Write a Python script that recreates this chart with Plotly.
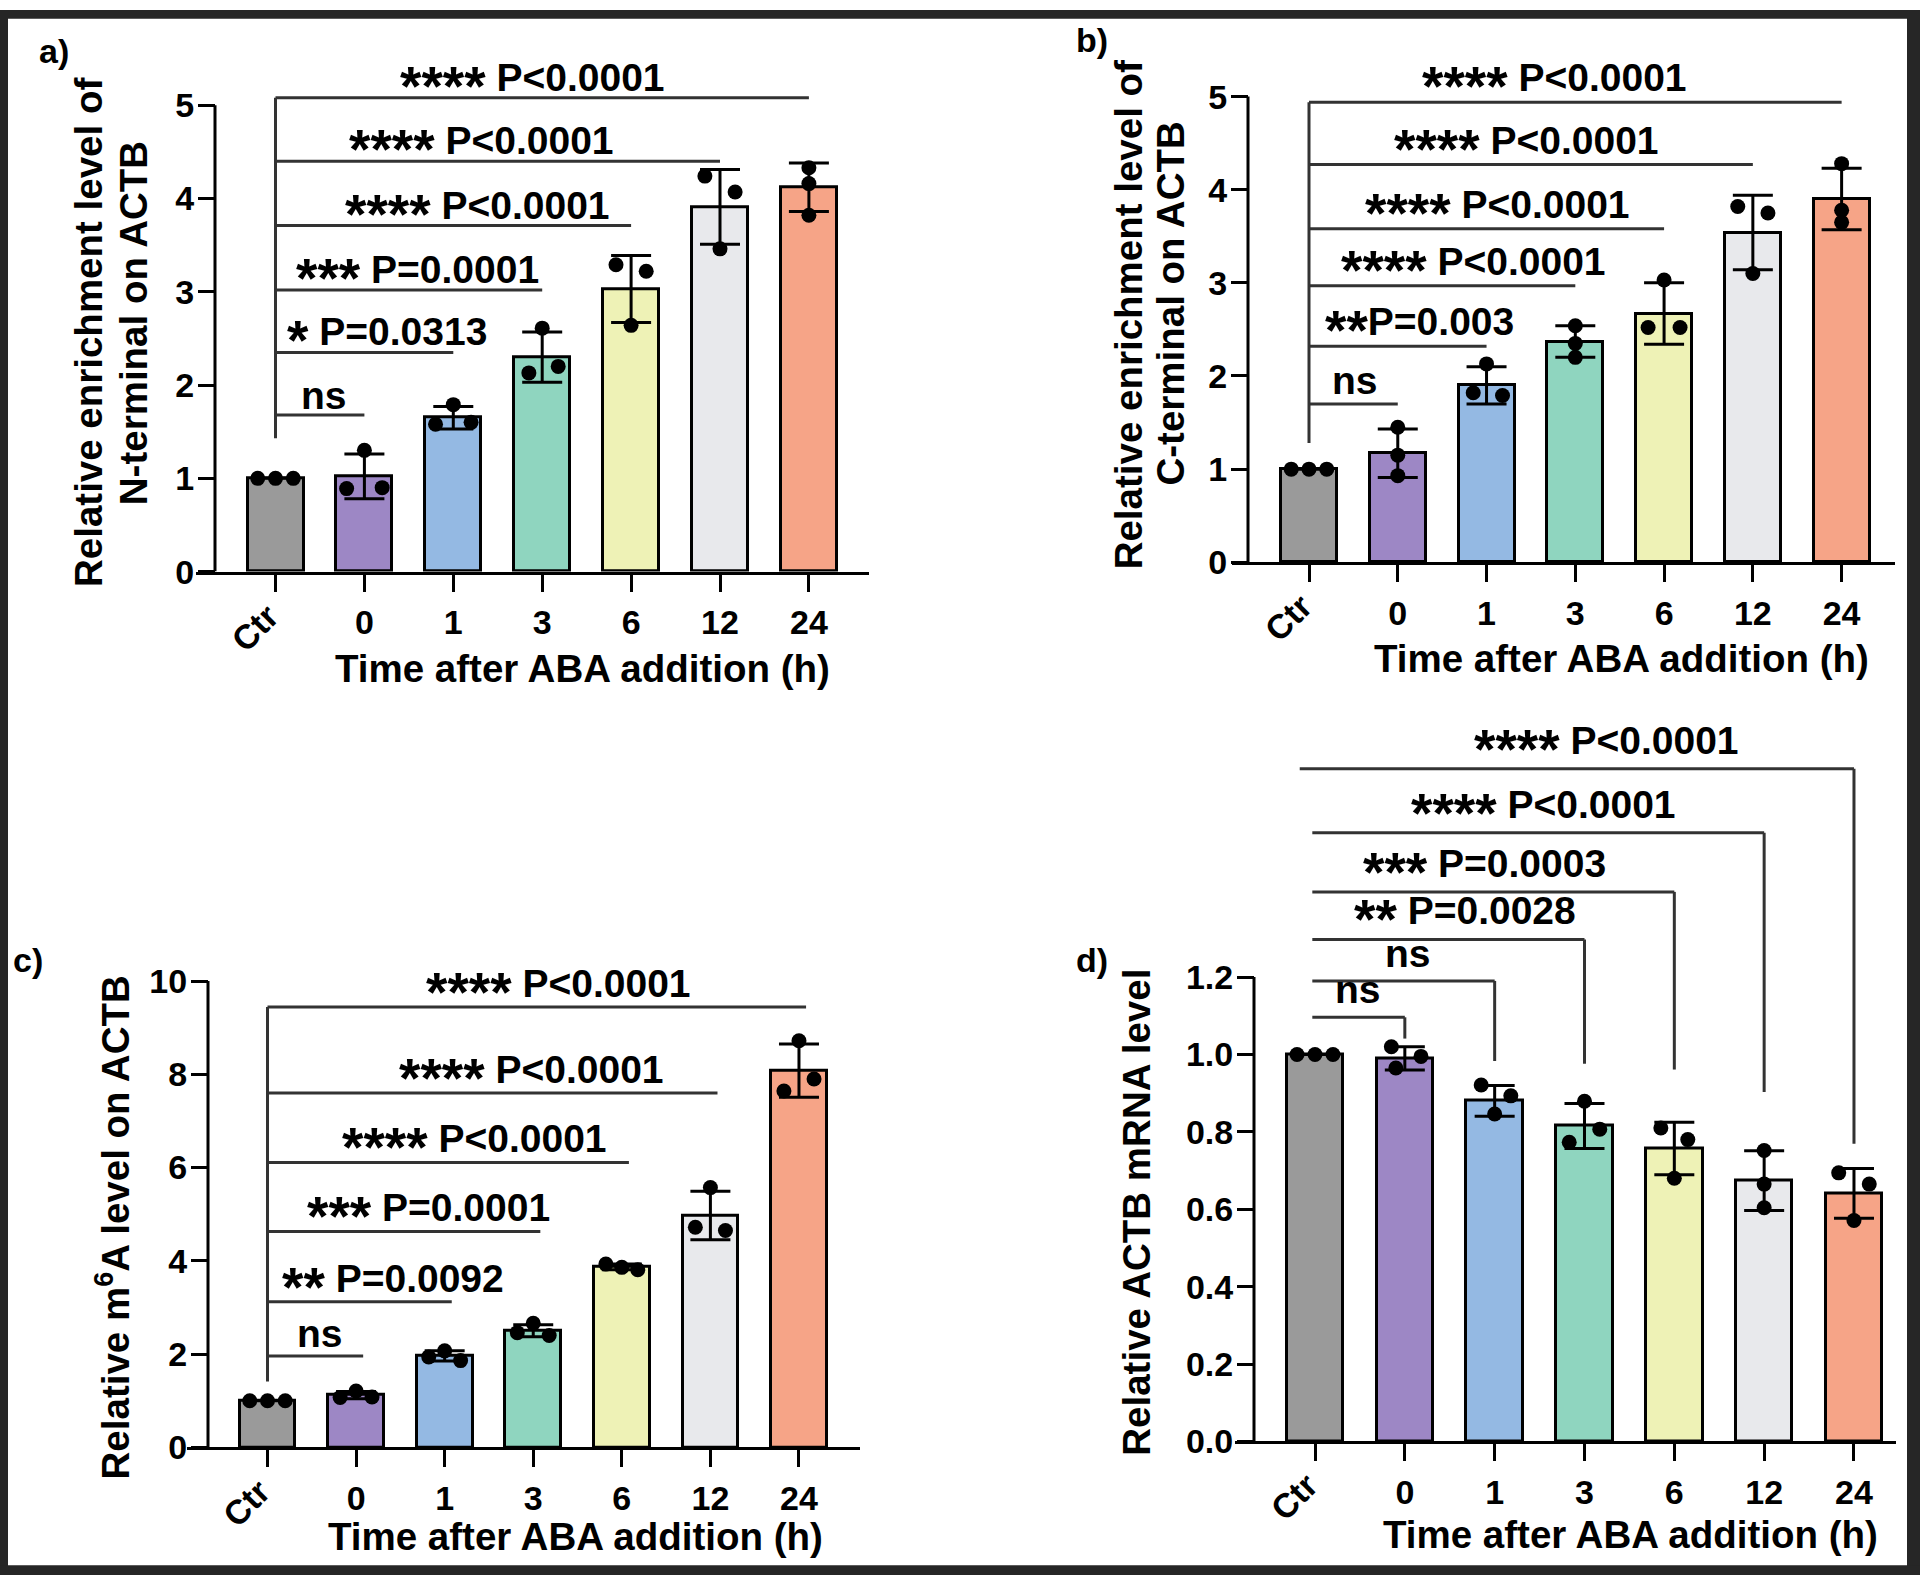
import plotly.graph_objects as go

W, H = 1920, 1594

# ---------------- data ----------------
CATEGORIES = ["Ctr", "0", "1", "3", "6", "12", "24"]
BAR_COLORS = ["#9a9a9a", "#9d87c5", "#94b9e3", "#8fd5bf", "#eef2b6", "#e8e9ec", "#f6a487"]

# Panel a: N-terminal enrichment
A_MEAN = [1.00, 1.02, 1.65, 2.30, 3.03, 3.91, 4.12]
A_SD = [0.0, 0.24, 0.12, 0.27, 0.36, 0.40, 0.26]
A_POINTS = [[1.0, 1.0, 1.0], [0.89, 1.30, 0.90], [1.58, 1.79, 1.60], [2.13, 2.61, 2.20],
            [3.29, 3.22, 2.64], [4.24, 4.07, 3.46], [4.33, 4.16, 3.82]]
A_BRACKET_Y = [1.68, 2.35, 3.02, 3.71, 4.40, 5.08]
A_LABELS = ["ns", "* P=0.0313", "*** P=0.0001", "**** P<0.0001", "**** P<0.0001", "**** P<0.0001"]

# Panel b: C-terminal enrichment
B_MEAN = [1.00, 1.17, 1.90, 2.37, 2.67, 3.54, 3.90]
B_SD = [0.0, 0.26, 0.20, 0.17, 0.33, 0.40, 0.33]
B_POINTS = [[1.0, 1.0, 1.0], [1.45, 1.15, 0.93], [2.13, 1.82, 1.79], [2.54, 2.35, 2.20],
            [3.03, 2.52, 2.52], [3.82, 3.75, 3.10], [4.28, 3.78, 3.65]]
B_BRACKET_Y = [1.70, 2.32, 2.97, 3.58, 4.27, 4.94]
B_LABELS = ["ns", "**P=0.003", "**** P<0.0001", "**** P<0.0001", "**** P<0.0001", "**** P<0.0001"]

# Panel c: m6A level
C_MEAN = [1.00, 1.12, 1.96, 2.50, 3.87, 4.97, 8.08]
C_SD = [0.0, 0.08, 0.11, 0.13, 0.06, 0.52, 0.57]
C_POINTS = [[1.0, 1.0, 1.0], [1.21, 1.07, 1.08], [2.07, 1.94, 1.86], [2.66, 2.46, 2.40],
            [3.93, 3.86, 3.81], [5.57, 4.72, 4.65], [8.72, 7.90, 7.64]]
C_BRACKET_Y = [1.96, 3.12, 4.63, 6.11, 7.60, 9.44]
C_LABELS = ["ns", "** P=0.0092", "*** P=0.0001", "**** P<0.0001", "**** P<0.0001", "**** P<0.0001"]

# Panel d: ACTB mRNA level
D_MEAN = [1.00, 0.99, 0.88, 0.815, 0.757, 0.674, 0.641]
D_SD = [0.0, 0.03, 0.04, 0.058, 0.068, 0.077, 0.064]
D_POINTS = [[1.0, 1.0, 1.0], [1.02, 0.995, 0.965], [0.921, 0.893, 0.846], [0.879, 0.807, 0.773],
            [0.81, 0.78, 0.68], [0.752, 0.665, 0.604], [0.694, 0.665, 0.571]]
D_BRACKET_Y = [1.096, 1.190, 1.297, 1.420, 1.573, 1.738]
D_DROP_END = [1.041, 0.983, 0.976, 0.961, 0.903, 0.769]
D_LABELS = ["ns", "ns", "** P=0.0028", "*** P=0.0003", "**** P<0.0001", "**** P<0.0001"]

X_TITLE = "Time after ABA addition (h)"
Y_TITLES = {
    "a": ["Relative enrichment level of", "N-terminal on ACTB"],
    "b": ["Relative enrichment level of", "C-terminal on ACTB"],
    "c": ["Relative m<sup>6</sup>A level on ACTB"],
    "d": ["Relative ACTB mRNA level"],
}

# ---------------- layout / style ----------------
FONT = "Liberation Sans, Arial, sans-serif"
TICK_SIZE = 34
TITLE_SIZE = 38.5
LABEL_SIZE = 39
STAR_SIZE = 55
STAR_DROP = 0.25       # em of the star font
STAR_EXTRA = 17        # px the lowered stars extend the text box downward
PANEL_SIZE = 34
BRACKET_COLOR = "#333333"

JITTER = {
    "a": [[-0.2, 0, 0.2], [-0.2, 0, 0.2], [-0.2, 0, 0.2], [-0.15, 0, 0.18],
          [-0.17, 0.17, 0], [-0.17, 0.17, 0], [0, 0, 0]],
    "b": [[-0.2, 0, 0.2], [0, 0, 0], [0, -0.15, 0.18], [0, 0, 0],
          [0, -0.18, 0.18], [-0.17, 0.17, 0], [0, 0, 0]],
    "c": [[-0.2, 0, 0.2], [0, -0.18, 0.18], [0, -0.18, 0.18], [0, -0.18, 0.18],
          [-0.18, 0, 0.18], [0, -0.17, 0.17], [0, 0.17, -0.17]],
    "d": [[-0.2, 0, 0.2], [-0.15, 0.18, -0.1], [-0.15, 0.18, 0], [0, 0.17, -0.17],
          [-0.15, 0.15, 0], [0, 0, 0], [-0.17, 0.17, 0]],
}

# pixel geometry of each panel
PANELS = {
    "a": dict(mean=A_MEAN, sd=A_SD, pts=A_POINTS, by=A_BRACKET_Y, labels=A_LABELS,
              cat0=275.5, sp=88.9, y0=572, unit=95.0, yline=215, xl=196, xr=869,
              ytop=5.3, axis_top=5, dtick=1, tickformat="d",
              lab_x=[0.55, 1.25, 1.60, 2.27, 2.32, 2.89], stem=1.43, end_off=0.0, yshift=-4,
              title=(582, 671), ytitle=[(88, 329), (133, 319)], plabel=(54, 42)),
    "b": dict(mean=B_MEAN, sd=B_SD, pts=B_POINTS, by=B_BRACKET_Y, labels=B_LABELS,
              cat0=1309, sp=88.77, y0=562.5, unit=94.86, yline=1248, xl=1232, xr=1895,
              ytop=5.2, axis_top=5, dtick=1, tickformat="d",
              lab_x=[0.52, 1.24, 1.85, 2.12, 2.45, 2.76], stem=1.28, end_off=0.0, yshift=0,
              title=(1621, 661), ytitle=[(1128, 311), (1171, 299)], plabel=(1092, 31)),
    "c": dict(mean=C_MEAN, sd=C_SD, pts=C_POINTS, by=C_BRACKET_Y, labels=C_LABELS,
              cat0=267.5, sp=88.58, y0=1464, unit=47.5, yline=208, xl=187, xr=860,
              ytop=10.2, axis_top=10, dtick=2, tickformat="d",
              lab_x=[0.59, 1.42, 1.82, 2.34, 2.98, 3.28], stem=1.41, end_off=0.08, yshift=-1,
              title=(575, 1555), ytitle=[(113, 1240)], plabel=(28, 968)),
    "d": dict(mean=D_MEAN, sd=D_SD, pts=D_POINTS, by=D_BRACKET_Y, labels=D_LABELS,
              cat0=1315, sp=89.83, y0=1458, unit=394.2, yline=1254, xl=1235, xr=1896,
              ytop=1.78, axis_top=1.2, dtick=0.2, tickformat=".1f",
              lab_x=[0.48, 1.03, 1.67, 1.89, 2.54, 3.25], stem=None, end_off=0.0, yshift=4,
              title=(1630, 1553), ytitle=[(1137, 1225)], plabel=(1092, 968)),
}


def px(x):
    return x / W


def py(y):
    return 1 - y / H


def n_stars(s):
    return len(s) - len(s.lstrip("*"))


def fmt_label(s):
    k = n_stars(s)
    if k == 0:
        return s
    return ('<span style="font-size:%dpx;baseline-shift:-%.2fem">' % (STAR_SIZE, STAR_DROP)
            + s[:k] + "</span>" + s[k:])


fig = go.Figure()
shapes = []
annotations = []
bold = dict(family=FONT, color="black", weight="bold")

for i, (key, p) in enumerate(PANELS.items()):
    n = "" if i == 0 else str(i + 1)
    xa, ya = "x" + n, "y" + n
    cats = list(range(len(CATEGORIES)))

    fig.add_trace(go.Bar(
        x=cats, y=p["mean"], width=0.63, xaxis=xa, yaxis=ya,
        marker=dict(color=BAR_COLORS, line=dict(color="black", width=3)),
        error_y=dict(type="data", array=p["sd"], visible=True, thickness=3, width=20,
                     color="black"),
        showlegend=False, hoverinfo="skip"))

    xs, ys = [], []
    for c, vals in enumerate(p["pts"]):
        for j, v in enumerate(vals):
            xs.append(c + JITTER[key][c][j])
            ys.append(v)
    fig.add_trace(go.Scatter(
        x=xs, y=ys, mode="markers", xaxis=xa, yaxis=ya, cliponaxis=False,
        marker=dict(color="black", size=15), showlegend=False, hoverinfo="skip"))

    xmin = (p["xl"] - p["cat0"]) / p["sp"]
    xmax = (p["xr"] - p["cat0"]) / p["sp"]
    top_px = p["y0"] - p["ytop"] * p["unit"]
    nticks = int(round(p["axis_top"] / p["dtick"])) + 1
    tickvals = [round(k * p["dtick"], 3) for k in range(nticks)]

    fig.layout["xaxis" + n] = dict(
        domain=[px(p["xl"]), px(p["xr"])], range=[xmin, xmax], anchor=ya,
        showline=True, linecolor="black", linewidth=3, showgrid=False, zeroline=False,
        ticks="outside", ticklen=17, tickwidth=3, tickcolor="black",
        tickmode="array", tickvals=cats[1:], ticktext=CATEGORIES[1:], ticklabelstandoff=2,
        minor=dict(tickmode="array", tickvals=[0], ticks="outside", ticklen=17,
                   tickwidth=3, tickcolor="black", showgrid=False),
        tickfont=dict(size=TICK_SIZE, **bold))
    fig.layout["yaxis" + n] = dict(
        domain=[py(p["y0"]), py(top_px)], range=[0, p["ytop"]], anchor="free",
        position=px(p["yline"]), showline=False, showgrid=False, zeroline=False,
        ticks="outside", ticklen=17, tickwidth=3, tickcolor="black",
        tickvals=tickvals, tickformat=p["tickformat"], ticklabelstandoff=-3,
        tickfont=dict(size=TICK_SIZE, **bold))

    # y axis line only up to the top tick
    shapes.append(dict(type="line", xref="paper", yref=ya, x0=px(p["yline"]),
                       x1=px(p["yline"]), y0=0, y1=p["axis_top"],
                       line=dict(color="black", width=3)))

    # significance brackets
    for k, yb in enumerate(p["by"]):
        target = k + 1
        if key == "d":
            x_start = -0.17 if k == len(p["by"]) - 1 else -0.03
            shapes.append(dict(type="line", xref=xa, yref=ya, x0=x_start, x1=target,
                               y0=yb, y1=yb, line=dict(color=BRACKET_COLOR, width=3)))
            shapes.append(dict(type="line", xref=xa, yref=ya, x0=target, x1=target,
                               y0=yb, y1=D_DROP_END[k], line=dict(color=BRACKET_COLOR, width=3)))
        else:
            shapes.append(dict(type="line", xref=xa, yref=ya, x0=0, x1=target + p["end_off"],
                               y0=yb, y1=yb, line=dict(color=BRACKET_COLOR, width=3)))
        lab = p["labels"][k]
        ys_ = p["yshift"] - (STAR_EXTRA if n_stars(lab) else 0)
        annotations.append(dict(
            xref=xa, yref=ya, x=p["lab_x"][k], y=yb, xanchor="center", yanchor="bottom",
            yshift=ys_, showarrow=False, text=fmt_label(lab),
            font=dict(size=LABEL_SIZE, **bold)))
    if p["stem"] is not None:
        shapes.append(dict(type="line", xref=xa, yref=ya, x0=0, x1=0, y0=p["stem"],
                           y1=max(p["by"]), line=dict(color=BRACKET_COLOR, width=3)))

    # rotated "Ctr" tick label
    annotations.append(dict(
        xref=xa, yref=ya + " domain", x=0, y=0, xshift=-21, yshift=-56, textangle=-45,
        xanchor="center", yanchor="middle", showarrow=False, text=CATEGORIES[0],
        font=dict(size=TICK_SIZE, **bold)))

    # axis titles and panel label
    annotations.append(dict(
        xref="paper", yref="paper", x=px(p["title"][0]), y=py(p["title"][1]),
        xanchor="center", yanchor="middle", showarrow=False, text=X_TITLE,
        font=dict(size=TITLE_SIZE, **bold)))
    for line_text, (tx, ty) in zip(Y_TITLES[key], p["ytitle"]):
        annotations.append(dict(
            xref="paper", yref="paper", x=px(tx), y=py(ty),
            xanchor="center", yanchor="middle", showarrow=False, textangle=-90,
            text=line_text, font=dict(size=TITLE_SIZE, **bold)))
    annotations.append(dict(
        xref="paper", yref="paper", x=px(p["plabel"][0]), y=py(p["plabel"][1]),
        xanchor="center", yanchor="middle", showarrow=False, text=key + ")",
        font=dict(size=PANEL_SIZE, **bold)))

# dark outer frame
FRAME = "#262626"
for (x0, y0, x1, y1) in [(0, 0, W, 9), (0, 0, 8, H), (W - 13, 0, W, H), (0, H - 10, W, H)]:
    shapes.append(dict(type="rect", xref="paper", yref="paper", x0=px(x0), x1=px(x1),
                       y0=py(y1), y1=py(y0), fillcolor=FRAME, line=dict(width=0),
                       layer="above"))

fig.update_layout(
    width=W, height=H, margin=dict(l=0, r=0, t=0, b=0),
    paper_bgcolor="white", plot_bgcolor="rgba(0,0,0,0)",
    shapes=shapes, annotations=annotations, bargap=0, showlegend=False,
    font=dict(family=FONT, color="black"))

fig.write_html(
    "out.html",
    config={"displayModeBar": False},
    post_script="document.body.style.margin='0px';document.body.style.overflow='hidden';")
